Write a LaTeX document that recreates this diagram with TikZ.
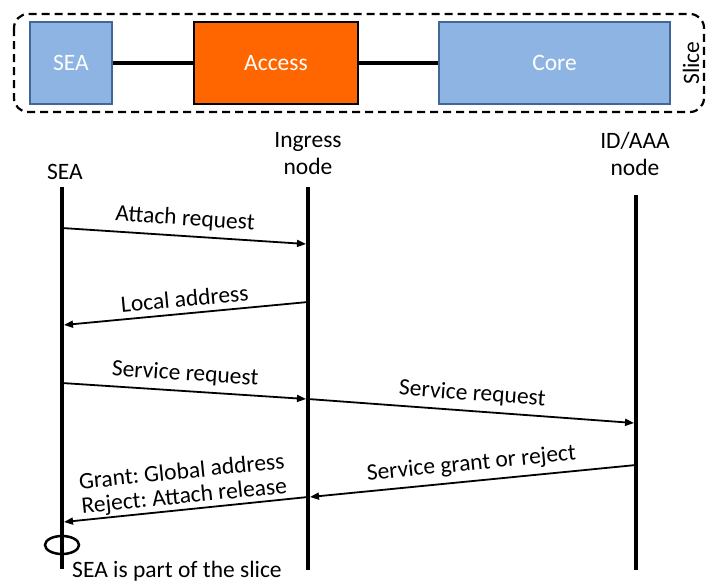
\documentclass[tikz,border=0pt]{standalone}
\usepackage{fontspec}
\setmainfont{Carlito}
\usetikzlibrary{arrows.meta}
\definecolor{boxblue}{HTML}{8EB4E3}
\definecolor{boxborder}{HTML}{41679A}
\definecolor{accessorange}{HTML}{FF6600}
\frenchspacing
\begin{document}
\begin{tikzpicture}[x=1pt,y=-1pt,
  txt/.style={font=\fontsize{23.5}{27}\selectfont},
  box/.style={txt, draw, line width=2pt, minimum height=82pt, text=white, inner sep=0pt},
  bluebox/.style={box, fill=boxblue, draw=boxborder},
  orangebox/.style={box, fill=accessorange, draw=black},
  link/.style={line width=3.5pt},
  life/.style={line width=4pt},
  msg/.style={line width=1.8pt, -{Triangle[length=9pt,width=7pt]}},
  lbl/.style={txt, sloped, above, inner sep=6pt, midway},
]
\useasboundingbox (0,0) rectangle (707,584);
% slice frame
\draw[line width=2.2pt, dash pattern=on 8pt off 5pt, rounded corners=14pt] (14,14) rectangle (704,112);
\node[txt, rotate=90] (slice) at (691,63) {Slice};
% boxes
\node[bluebox, minimum width=82pt] (sea) at (71,63) {SEA};
\node[orangebox, minimum width=164pt] (access) at (276,63) {Access};
\node[bluebox, minimum width=231pt] (core) at (554.5,63) {Core};
\draw[link] (sea) -- (access);
\draw[link] (access) -- (core);
% lifeline labels
\node[txt] (lsea) at (65,172) {SEA};
\node[txt, align=center] (ling) at (308,154) {Ingress\\node};
\node[txt, align=center] (laaa) at (635,154) {ID/AAA\\node};
% lifelines
\coordinate (seaT) at (62,187);
\coordinate (seaB) at (62,569);
\coordinate (ingT) at (308,187);
\coordinate (ingB) at (308,570);
\coordinate (aaaT) at (636,195);
\coordinate (aaaB) at (636,570);
\draw[life] (seaT) -- (seaB);
\draw[life] (ingT) -- (ingB);
\draw[life] (aaaT) -- (aaaB);
% message points
\coordinate (a1) at (62,228);  \coordinate (a2) at (306,244);
\coordinate (b1) at (308,302); \coordinate (b2) at (64,325);
\coordinate (c1) at (62,383);  \coordinate (c2) at (306,399);
\coordinate (d1) at (308,399); \coordinate (d2) at (634,423);
\coordinate (e1) at (636,465); \coordinate (e2) at (310,497);
\coordinate (f1) at (308,497); \coordinate (f2) at (64,522);
\draw[msg] (a1) -- node[lbl] {Attach request} (a2);
\draw[msg] (b1) -- node[lbl] {Local address} (b2);
\draw[msg] (c1) -- node[lbl] {Service request} (c2);
\draw[msg] (d1) -- node[lbl] {Service request} (d2);
\draw[msg] (e1) -- node[lbl] {Service grant or reject} (e2);
\draw[msg] (f1) -- (f2);
\node[font=\fontsize{23.5}{24.5}\selectfont, align=center, rotate=5.8, inner sep=0pt] (grantreject) at (183,485) {Grant: Global address\\Reject: Attach release};
% SEA in slice
\draw[line width=2.5pt] (62,545) ellipse [x radius=17pt, y radius=9pt];
\node[txt] (note) at (177,571) {SEA is part of the slice};
\end{tikzpicture}
\end{document}
